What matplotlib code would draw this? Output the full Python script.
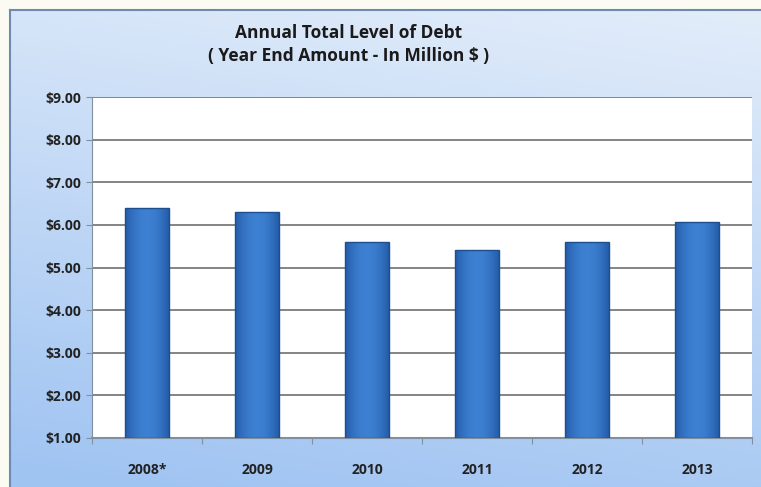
import numpy as np
import matplotlib
matplotlib.use('Agg')
import matplotlib.pyplot as plt

# data
years = ['2008*', '2009', '2010', '2011', '2012', '2013']
debt = [6.40, 6.30, 5.60, 5.42, 5.60, 6.07]
y_ticks = [1, 2, 3, 4, 5, 6, 7, 8, 9]
y_labels = ['$%.2f' % v for v in y_ticks]

plt.rcParams['font.family'] = ['Open Sans', 'DejaVu Sans']

fig = plt.figure(figsize=(7.61, 4.87), dpi=100)
fig.patch.set_facecolor('#fbfbf3')

# gradient background panel
bg = fig.add_axes([10/761, -0.01, 1.0, 1.01 - 10/487])
grad = np.linspace(0, 1, 256).reshape(-1, 1)
xs = np.linspace(0, 1, 256).reshape(1, -1)
top = np.array([0.89, 0.93, 0.98])
bot = np.array([0.63, 0.77, 0.95])
t = np.clip(grad * 0.85 + (1 - xs) * 0.2, 0, 1)
img = top * (1 - t[..., None]) + bot * t[..., None]
bg.imshow(img, aspect='auto', extent=[0, 1, 0, 1], origin='upper')
bg.set_xticks([])
bg.set_yticks([])
for s in bg.spines.values():
    s.set_color('#6f8aae')
    s.set_linewidth(1.5)

ax = fig.add_axes([92/761, 1 - 438/487, (752 - 92)/761, (438 - 97)/487])
ax.set_facecolor('white')
x = np.arange(len(years))
bw = 0.40
bars = ax.bar(x, np.array(debt) - 1, bottom=1, width=bw, color='#2f6fc1',
              edgecolor='#1d4f8e', linewidth=1.0, zorder=3)

# soft horizontal shading inside each bar
u = np.linspace(-1, 1, 64)
shade = 1 - u ** 2
dark = np.array([0.14, 0.36, 0.66])
light = np.array([0.24, 0.50, 0.82])
bar_img = (dark[None, :] * (1 - shade[:, None]) + light[None, :] * shade[:, None])[None, :, :]
for b in bars:
    bx, by = b.get_x(), b.get_y()
    im = ax.imshow(bar_img, extent=[bx, bx + b.get_width(), by, by + b.get_height()],
                   aspect='auto', zorder=3.5)
    im.set_clip_path(b)
    b.set_facecolor('none')
    b.set_zorder(4)

ax.set_ylim(1, 9)
ax.set_xlim(-0.5, len(years) - 0.5)
ax.set_yticks(y_ticks)
ax.set_yticklabels(y_labels, fontsize=10, fontweight='bold', color='#222222')
ax.yaxis.grid(True, color='#707070', linewidth=1.2, zorder=0)
ax.set_axisbelow(True)

ax.set_xticks(np.arange(len(years) + 1) - 0.5)
ax.set_xticklabels([])
ax.set_xticks(x, minor=True)
ax.set_xticklabels(years, minor=True, fontsize=10, fontweight='bold', color='#222222')
ax.tick_params(axis='x', which='minor', length=0, pad=18)
ax.tick_params(axis='x', which='major', length=4, color='#8090a0')
ax.tick_params(axis='y', length=4, color='#8090a0', pad=4)

for side in ['top', 'right']:
    ax.spines[side].set_visible(False)
ax.spines['left'].set_color('#8090a0')
ax.spines['bottom'].set_color('#8090a0')
ax.spines['bottom'].set_linewidth(1.5)

fig.text(349/761, 1 - 33/487, 'Annual Total Level of Debt', ha='center', va='center',
         fontsize=12.5, fontweight='bold', color='#1a1a1a')
fig.text(349/761, 1 - 56/487, '( Year End Amount - In Million $ )', ha='center', va='center',
         fontsize=12.5, fontweight='bold', color='#1a1a1a')

fig.savefig('out.png', dpi=100, facecolor=fig.get_facecolor())
